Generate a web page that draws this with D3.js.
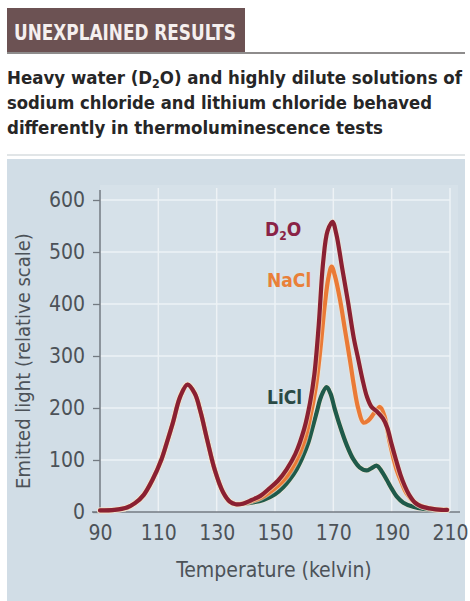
<!DOCTYPE html>
<html>
<head>
<meta charset="utf-8">
<script src="https://cdn.jsdelivr.net/npm/d3@7"></script>
<style>
  html, body { margin: 0; padding: 0; background: #ffffff; }
  #chart { width: 470px; height: 601px; }
  text { font-family: "DejaVu Sans Condensed", "Liberation Sans Narrow", sans-serif; font-stretch: condensed; }
</style>
</head>
<body>
<div id="chart"></div>
<script>
// Temperature (K) and emitted light readings
// the low-temperature peak is the same for all three samples
const firstPeakT = [90, 95, 99, 102, 105, 108, 111, 113, 115, 117.5, 120, 122.5, 124.5, 126.7, 129.4, 132.2, 134.5, 136.5, 139];
const firstPeakV = [3, 4, 8, 17, 33, 62, 100, 135, 172, 222, 245, 228, 192, 140, 80, 38, 20, 15, 16];

const d2oT = [142, 145, 148, 151, 154, 157, 160, 162, 163.5, 165, 166.5, 168, 169.7, 171, 173, 175, 177, 178.5, 180, 181.5, 183, 185, 187, 188.5, 190, 191.5, 193, 194.5, 196, 198, 200, 203, 207, 209];
const d2oV = [23, 31, 45, 60, 82, 112, 160, 210, 265, 360, 480, 540, 558, 535, 470, 405, 335, 295, 255, 222, 203, 193, 180, 162, 130, 100, 72, 50, 33, 18, 11, 7, 4, 4];

const naclT = [142, 145, 148, 151, 154, 157, 160, 162, 164, 165.5, 167, 168.3, 169.4, 170.5, 172.3, 174, 175.7, 177, 178.5, 180.3, 182, 184, 186, 187.5, 189.4, 191.7, 193.5, 195.1, 198, 200.8, 205, 209];
const naclV = [21, 27, 37, 50, 68, 95, 135, 180, 240, 310, 395, 450, 472, 455, 408, 350, 292, 245, 200, 172, 176, 190, 202, 185, 132, 81, 55, 36, 18, 10, 5, 4];

const liclT = [142, 146, 150, 152.9, 155, 157.4, 159.5, 161.4, 163, 164.3, 165.8, 167.7, 169, 170.5, 172.3, 174.5, 176.8, 179, 181.4, 183, 184.9, 186.5, 188.3, 190, 191.7, 194, 197.4, 201, 206.6, 209];
const liclV = [18, 23, 34, 48, 62, 82, 106, 133, 165, 192, 222, 240, 228, 198, 165, 130, 102, 86, 80, 84, 89, 79, 62, 45, 30, 18, 10, 6, 4, 4];

const xTicks = [90, 110, 130, 150, 170, 190, 210];
const yTicks = [0, 100, 200, 300, 400, 500, 600];

document.addEventListener("DOMContentLoaded", function () {
  const svg = d3
    .select("#chart")
    .append("svg")
    .attr("width", 470)
    .attr("height", 601);

  // Header band
  svg.append("rect").attr("x", 7).attr("y", 8).attr("width", 238).attr("height", 44).attr("fill", "#6c5253");
  svg.append("line").attr("x1", 7).attr("x2", 465).attr("y1", 53).attr("y2", 53)
    .attr("stroke", "#8e8c8c").attr("stroke-width", 2);
  svg.append("text")
    .attr("x", 14).attr("y", 40)
    .attr("font-size", 22).attr("font-weight", "bold")
    .attr("fill", "#f5efee")
    .attr("textLength", 222).attr("lengthAdjust", "spacingAndGlyphs")
    .text("UNEXPLAINED RESULTS");

  // Subtitle, three lines
  const sub = svg.append("g").attr("font-size", 18).attr("font-weight", "bold").attr("fill", "#262626");
  const l1 = sub.append("text").attr("x", 7).attr("y", 84)
    .attr("textLength", 455).attr("lengthAdjust", "spacingAndGlyphs");
  l1.append("tspan").text("Heavy water (D");
  l1.append("tspan").attr("font-size", 12).attr("dy", 4).text("2");
  l1.append("tspan").attr("dy", -4).text("O) and highly dilute solutions of");
  sub.append("text").attr("x", 7).attr("y", 109)
    .attr("textLength", 425).attr("lengthAdjust", "spacingAndGlyphs")
    .text("sodium chloride and lithium chloride behaved");
  sub.append("text").attr("x", 7).attr("y", 134)
    .attr("textLength", 376).attr("lengthAdjust", "spacingAndGlyphs")
    .text("differently in thermoluminescence tests");

  svg.append("line").attr("x1", 7).attr("x2", 465).attr("y1", 155).attr("y2", 155)
    .attr("stroke", "#e1e5e7").attr("stroke-width", 2);

  // Chart panel
  svg.append("rect").attr("x", 7).attr("y", 159).attr("width", 458).attr("height", 442).attr("fill", "#d1dde6");

  // Scales
  const x = d3.scaleLinear().domain([90, 210]).range([100, 450]);
  const y = d3.scaleLinear().domain([0, 600]).range([512, 200]);

  // plot area, a touch lighter
  svg.append("rect")
    .attr("x", x(90)).attr("y", y(600) - 15)
    .attr("width", x(210) - x(90) + 8).attr("height", y(0) - y(600) + 15)
    .attr("fill", "#d6e1e9");

  // Grid
  const grid = svg.append("g").attr("stroke", "#f2f6f8").attr("stroke-width", 1.5).attr("opacity", 0.85);
  grid.selectAll("line.h")
    .data(yTicks.slice(1))
    .enter().append("line").attr("class", "h")
    .attr("x1", x(90)).attr("x2", x(210))
    .attr("y1", (d) => y(d)).attr("y2", (d) => y(d));
  grid.selectAll("line.v")
    .data(xTicks.slice(1))
    .enter().append("line").attr("class", "v")
    .attr("x1", (d) => x(d)).attr("x2", (d) => x(d))
    .attr("y1", y(600) - 12).attr("y2", y(0));

  // Axes
  const axisColor = "#737a82";
  const labelColor = "#4c5258";

  const yAxis = svg.append("g")
    .attr("transform", `translate(${x(90)},0)`)
    .call(d3.axisLeft(y).tickValues(yTicks).tickSize(7).tickPadding(8));
  yAxis.select(".domain").remove();
  yAxis.selectAll("line").attr("stroke", axisColor).attr("stroke-width", 1.3);
  yAxis.selectAll("text").attr("font-size", 21).attr("fill", labelColor)
    .attr("font-family", "DejaVu Sans Condensed, sans-serif");
  yAxis.append("line")
    .attr("x1", 0).attr("x2", 0).attr("y1", y(600) - 10).attr("y2", y(0))
    .attr("stroke", axisColor).attr("stroke-width", 1.5);

  const xAxis = svg.append("g")
    .attr("transform", `translate(0,${y(0)})`)
    .call(d3.axisBottom(x).tickValues(xTicks).tickSize(0).tickPadding(13));
  xAxis.select(".domain").remove();
  xAxis.selectAll("text").attr("font-size", 21).attr("fill", labelColor)
    .attr("font-family", "DejaVu Sans Condensed, sans-serif");
  xAxis.append("line")
    .attr("x1", x(90) - 8).attr("x2", x(210) + 10).attr("y1", 0).attr("y2", 0)
    .attr("stroke", axisColor).attr("stroke-width", 1.5);

  // Axis titles
  svg.append("text")
    .attr("x", 274).attr("y", 577)
    .attr("text-anchor", "middle").attr("font-size", 21).attr("fill", labelColor)
    .text("Temperature (kelvin)");
  svg.append("text")
    .attr("transform", "translate(30,361) rotate(-90)")
    .attr("text-anchor", "middle").attr("font-size", 20).attr("fill", labelColor)
    .text("Emitted light (relative scale)");

  // Series, bottom to top
  const series = [
    { name: "LiCl", t: firstPeakT.concat(liclT), v: firstPeakV.concat(liclV), color: "#1f5a4a" },
    { name: "NaCl", t: firstPeakT.concat(naclT), v: firstPeakV.concat(naclV), color: "#ea7a36" },
    { name: "D2O", t: firstPeakT.concat(d2oT), v: firstPeakV.concat(d2oV), color: "#8a2032" },
  ];
  console.log("Series:", series.map((s) => s.name + " " + s.t.length + "/" + s.v.length));

  const line = d3.line()
    .x((d) => x(d[0]))
    .y((d) => y(d[1]))
    .curve(d3.curveCatmullRom.alpha(0.5));

  const curves = svg.append("g").attr("fill", "none").attr("stroke-linejoin", "round").attr("stroke-linecap", "round");
  series.forEach((s) => {
    const pts = s.t.map((t, i) => [t, s.v[i]]);
    // pale halo under each line
    curves.append("path").attr("d", line(pts))
      .attr("stroke", "#f1e3cf").attr("stroke-width", 6).attr("opacity", 0.6);
    curves.append("path").attr("d", line(pts))
      .attr("stroke", s.color).attr("stroke-width", 4.2);
  });

  // Series labels
  const lab = svg.append("g").attr("font-size", 19).attr("font-weight", "bold");
  const d2o = lab.append("text").attr("x", 265).attr("y", 236).attr("fill", "#8a2346");
  d2o.append("tspan").text("D");
  d2o.append("tspan").attr("font-size", 12).attr("dy", 4).text("2");
  d2o.append("tspan").attr("dy", -4).text("O");
  lab.append("text").attr("x", 267).attr("y", 287).attr("fill", "#e98039").text("NaCl");
  lab.append("text").attr("x", 267).attr("y", 404).attr("fill", "#2b4a45").text("LiCl");
});
</script>
</body>
</html>
